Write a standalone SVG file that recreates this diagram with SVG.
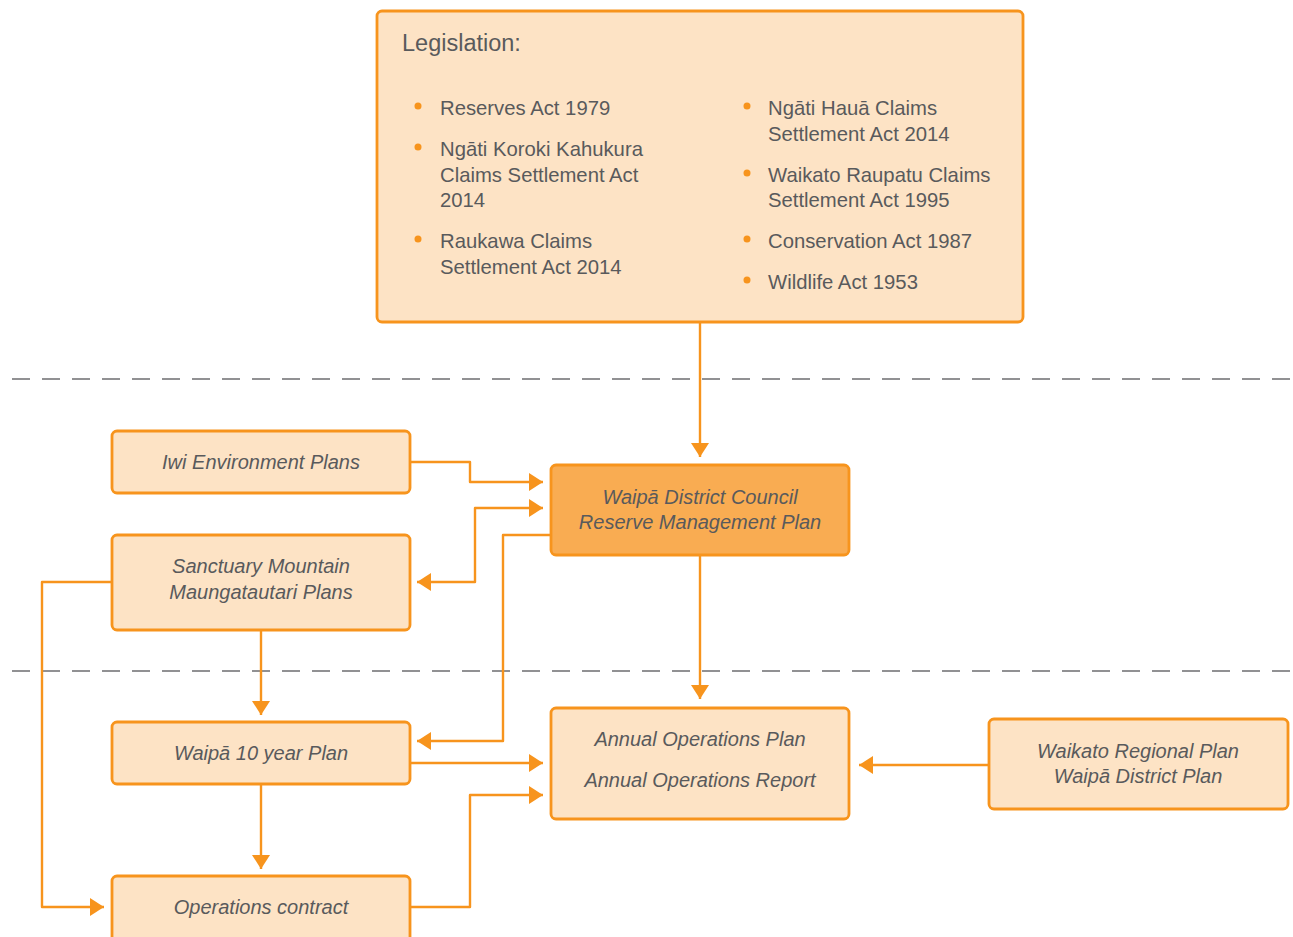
<svg xmlns="http://www.w3.org/2000/svg" width="1293" height="937" viewBox="0 0 1293 937">
<style>
.box{fill:#FDE3C5;stroke:#F7941D;stroke-width:2.8}
.dark{fill:#F9AC52;stroke:#F7941D;stroke-width:2.8}
.t{font-family:"Liberation Sans",Arial,sans-serif;fill:#595A5C}
.it{font-style:italic;font-size:20px;text-anchor:middle}
.leg{font-size:20.3px}
.bul{fill:#F7941D}
.con{fill:none;stroke:#F7941D;stroke-width:2.4;stroke-linejoin:round}
.dash{stroke:#6D6E70;stroke-width:1.5;stroke-dasharray:18 12}
</style>
<defs>
<marker id="ah" markerUnits="userSpaceOnUse" markerWidth="15" markerHeight="18" refX="14" refY="9" orient="auto-start-reverse">
<path d="M0,0 L14,9 L0,18 Z" fill="#F7941D"/>
</marker>
</defs>
<rect width="1293" height="937" fill="#FFFFFF"/>
<line class="dash" x1="12" y1="379" x2="1293" y2="379"/>
<line class="dash" x1="12" y1="671" x2="1293" y2="671"/>
<g id="connectors">
<path class="con" d="M700,322 V457" marker-end="url(#ah)"/>
<path class="con" d="M410,462 H470 V482 H543" marker-end="url(#ah)"/>
<path class="con" d="M417,582 H475 V508 H543" marker-start="url(#ah)" marker-end="url(#ah)"/>
<path class="con" d="M551,535 H503 V741 H417" marker-end="url(#ah)"/>
<path class="con" d="M700,555 V699" marker-end="url(#ah)"/>
<path class="con" d="M261,630 V715" marker-end="url(#ah)"/>
<path class="con" d="M410,763 H543" marker-end="url(#ah)"/>
<path class="con" d="M261,784 V869" marker-end="url(#ah)"/>
<path class="con" d="M112,582 H42 V907 H104" marker-end="url(#ah)"/>
<path class="con" d="M410,907 H470 V795 H543" marker-end="url(#ah)"/>
<path class="con" d="M989,765 H859" marker-end="url(#ah)"/>
</g>
<g id="legislation">
<rect class="box" x="377" y="11" width="646" height="311" rx="5"/>
<text class="t" x="402" y="51" font-size="23.5">Legislation:</text>
<circle class="bul" cx="418" cy="106" r="3.5"/>
<circle class="bul" cx="418" cy="147" r="3.5"/>
<circle class="bul" cx="418" cy="239" r="3.5"/>
<circle class="bul" cx="747" cy="106" r="3.5"/>
<circle class="bul" cx="747" cy="173" r="3.5"/>
<circle class="bul" cx="747" cy="239" r="3.5"/>
<circle class="bul" cx="747" cy="280" r="3.5"/>
<g class="t leg">
<text x="440" y="115">Reserves Act 1979</text>
<text x="440" y="156">Ngāti Koroki Kahukura</text>
<text x="440" y="182">Claims Settlement Act</text>
<text x="440" y="207">2014</text>
<text x="440" y="248">Raukawa Claims</text>
<text x="440" y="274">Settlement Act 2014</text>
<text x="768" y="115">Ngāti Hauā Claims</text>
<text x="768" y="141">Settlement Act 2014</text>
<text x="768" y="182">Waikato Raupatu Claims</text>
<text x="768" y="207">Settlement Act 1995</text>
<text x="768" y="248">Conservation Act 1987</text>
<text x="768" y="289">Wildlife Act 1953</text>
</g>
</g>
<g id="iwi">
<rect class="box" x="112" y="431" width="298" height="62" rx="5"/>
<text class="t it" x="261" y="469">Iwi Environment Plans</text>
</g>
<g id="sanctuary">
<rect class="box" x="112" y="535" width="298" height="95" rx="5"/>
<text class="t it" x="261" y="573">Sanctuary Mountain</text>
<text class="t it" x="261" y="599">Maungatautari Plans</text>
</g>
<g id="rmp">
<rect class="dark" x="551" y="465" width="298" height="90" rx="5"/>
<text class="t it" x="700" y="504">Waipā District Council</text>
<text class="t it" x="700" y="529">Reserve Management Plan</text>
</g>
<g id="tenyear">
<rect class="box" x="112" y="722" width="298" height="62" rx="5"/>
<text class="t it" x="261" y="760">Waipā 10 year Plan</text>
</g>
<g id="opscontract">
<rect class="box" x="112" y="876" width="298" height="70" rx="5"/>
<text class="t it" x="261" y="914">Operations contract</text>
</g>
<g id="annual">
<rect class="box" x="551" y="708" width="298" height="111" rx="5"/>
<text class="t it" x="700" y="746">Annual Operations Plan</text>
<text class="t it" x="700" y="787">Annual Operations Report</text>
</g>
<g id="regional">
<rect class="box" x="989" y="719" width="299" height="90" rx="5"/>
<text class="t it" x="1138" y="758">Waikato Regional Plan</text>
<text class="t it" x="1138" y="783">Waipā District Plan</text>
</g>
</svg>
